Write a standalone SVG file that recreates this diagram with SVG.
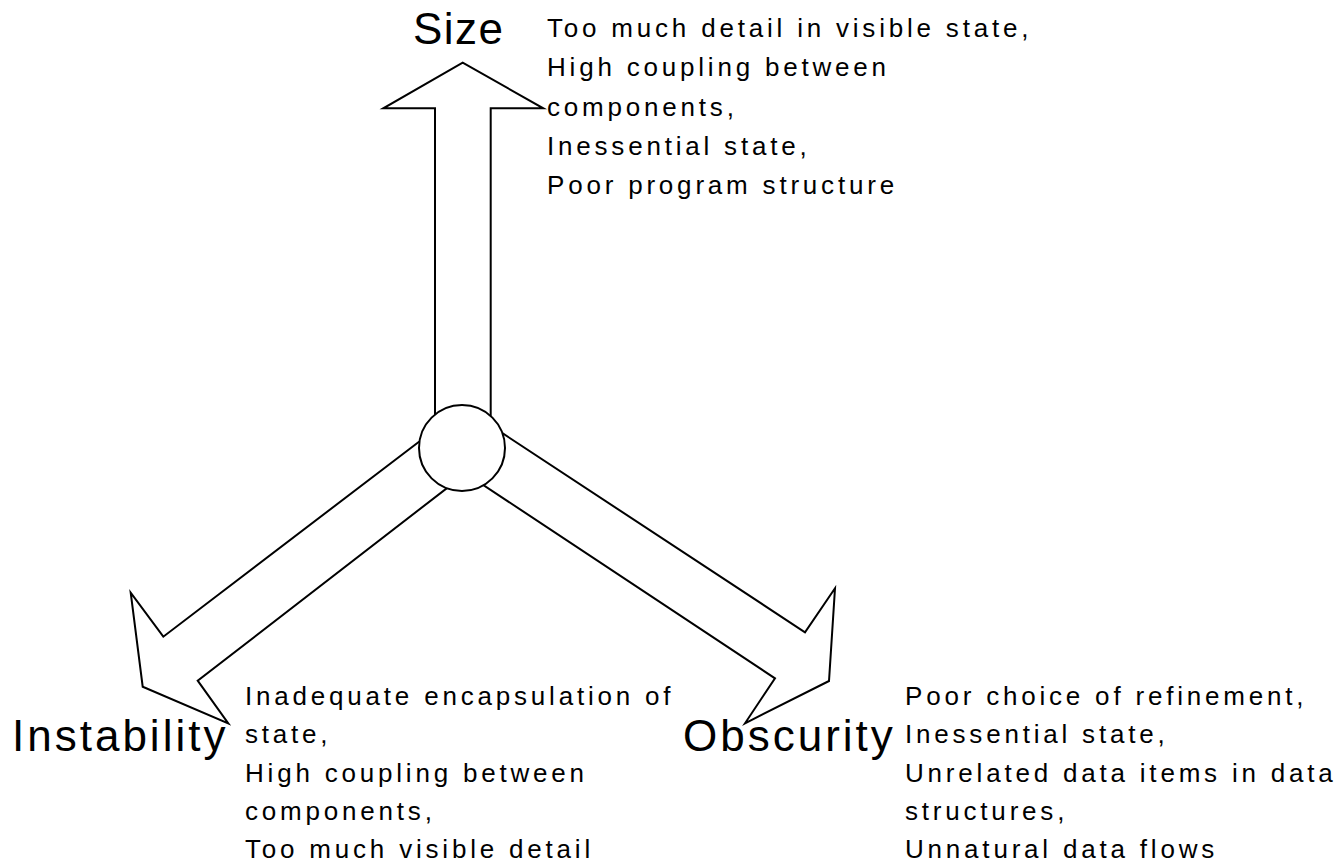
<svg xmlns="http://www.w3.org/2000/svg" width="1339" height="862" viewBox="0 0 1339 862">
  <style>
    .arrow { fill: #ffffff; stroke: #000000; stroke-width: 2; stroke-linejoin: miter; }
    .hub { fill: #ffffff; stroke: #000000; stroke-width: 2; }
    .axis { font-family: "Liberation Sans", Arial, sans-serif; font-size: 44px; fill: #000000; letter-spacing: 3px; }
    .causes { font-family: "Liberation Sans", Arial, sans-serif; font-size: 26px; fill: #000000; letter-spacing: 3.8px; }
  </style>
  <rect x="0" y="0" width="1339" height="862" fill="#ffffff"/>

  <!-- Block arrows radiating from the hub -->
  <g id="connectors">
    <polygon class="arrow" points="462,448 435,414.5 435,108.3 383.3,108.3 462.7,62.7 543.3,108.3 490.7,108.3 490.7,416"/>
    <polygon class="arrow" points="462,448 419,441.7 163.3,636.7 130.7,592.7 142.7,686.7 228.3,723.3 197.7,680.7 446.7,488.3"/>
    <polygon class="arrow" points="462,448 501.7,432.7 805,632.3 835,588.3 829,681 745,723.3 775,678.3 483.3,485"/>
  </g>

  <!-- Central hub -->
  <g id="hub">
    <circle class="hub" cx="462" cy="448" r="43"/>
  </g>

  <!-- Size axis -->
  <g id="size">
    <text class="axis" x="413" y="44" style="letter-spacing:1.5px">Size</text>
    <text class="causes" x="547">
      <tspan x="547" y="37">Too much detail in visible state,</tspan>
      <tspan x="547" y="76.3">High coupling between</tspan>
      <tspan x="547" y="115.6">components,</tspan>
      <tspan x="547" y="155">Inessential state,</tspan>
      <tspan x="547" y="194.2">Poor program structure</tspan>
    </text>
  </g>

  <!-- Instability axis -->
  <g id="instability">
    <text class="axis" x="12" y="751">Instability</text>
    <text class="causes" x="245">
      <tspan x="245" y="705">Inadequate encapsulation of</tspan>
      <tspan x="245" y="743">state,</tspan>
      <tspan x="245" y="781.5">High coupling between</tspan>
      <tspan x="245" y="820">components,</tspan>
      <tspan x="245" y="858">Too much visible detail</tspan>
    </text>
  </g>

  <!-- Obscurity axis -->
  <g id="obscurity">
    <text class="axis" x="683" y="751">Obscurity</text>
    <text class="causes" x="905">
      <tspan x="905" y="705">Poor choice of refinement,</tspan>
      <tspan x="905" y="743">Inessential state,</tspan>
      <tspan x="905" y="781.5">Unrelated data items in data</tspan>
      <tspan x="905" y="820">structures,</tspan>
      <tspan x="905" y="858">Unnatural data flows</tspan>
    </text>
  </g>
</svg>
